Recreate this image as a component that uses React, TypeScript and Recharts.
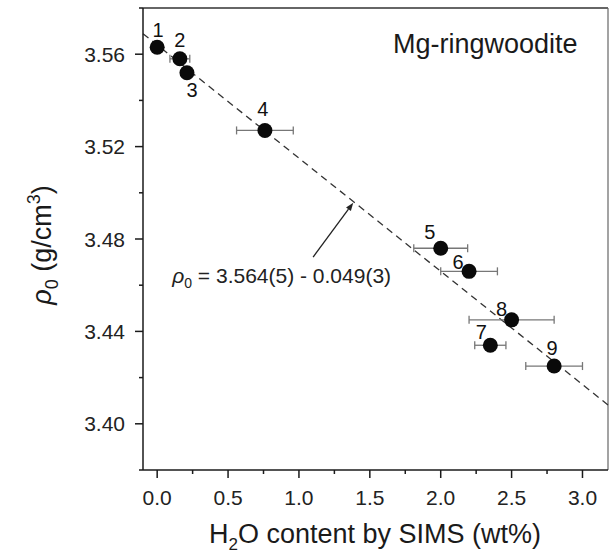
import React from 'react';
import {
  ScatterChart,
  Scatter,
  XAxis,
  YAxis,
  ErrorBar,
  ReferenceLine,
  ReferenceDot,
} from 'recharts';

// sample numbers, H2O content (wt%) with its error, and density rho0 (g/cm3)
const sampleIds = ['1', '2', '3', '4', '5', '6', '7', '8', '9'];
const waterContent = [0.0, 0.16, 0.21, 0.76, 2.0, 2.2, 2.35, 2.5, 2.8];
const waterError = [0, 0.07, 0, 0.2, 0.19, 0.2, 0.11, 0.3, 0.2];
const density = [3.563, 3.558, 3.552, 3.527, 3.476, 3.466, 3.434, 3.445, 3.425];

// fit rho0 = a + b * H2O
const fitIntercept = 3.564;
const fitSlope = -0.049;

const xDomain = [-0.1, 3.18];
const yDomain = [3.38, 3.58];
const xTicks = [0, 0.25, 0.5, 0.75, 1, 1.25, 1.5, 1.75, 2, 2.25, 2.5, 2.75, 3];
const yTicks = [3.38, 3.4, 3.42, 3.44, 3.46, 3.48, 3.5, 3.52, 3.54, 3.56, 3.58];

// arrow pointing at the fit line, and where the equation sits
const arrowFrom = { x: 1.1, y: 3.4722 };
const arrowTo = { x: 1.383, y: 3.4957 };
const equationAt = { x: 0.106, y: 3.4609 };

// label placement around each dot (dx, dy in px)
const labelOffset: Record<string, [number, number]> = {
  '1': [1, -17],
  '2': [0, -19],
  '3': [5, 17],
  '4': [-2, -21],
  '5': [-11, -16],
  '6': [-11, -9],
  '7': [-9, -13],
  '8': [-10, -11],
  '9': [-2, -18],
};

const data = sampleIds.map((id, i) => ({
  id,
  x: waterContent[i],
  y: density[i],
  xErr: waterError[i],
}));

const FONT = '"Liberation Sans", Arial, Helvetica, sans-serif';
const AXIS = '#1a1a1a';

const XTick = ({ x, y, payload }: any) => {
  const major = Math.round(payload.value * 100) % 50 === 0;
  return (
    <g>
      <line x1={x} x2={x} y1={y} y2={y + (major ? 8 : 4)} stroke={AXIS} strokeWidth={1.5} />
      {major && (
        <text x={x} y={y + 35} textAnchor="middle" fontSize={21} fontFamily={FONT} fill="#222">
          {payload.value.toFixed(1)}
        </text>
      )}
    </g>
  );
};

const YTick = ({ x, y, payload }: any) => {
  const major = Math.round(payload.value * 100) % 4 === 0;
  return (
    <g>
      <line x1={x} x2={x - (major ? 8 : 4)} y1={y} y2={y} stroke={AXIS} strokeWidth={1.5} />
      {major && (
        <text x={x - 18} y={y + 7.5} textAnchor="end" fontSize={21} fontFamily={FONT} fill="#222">
          {payload.value.toFixed(2)}
        </text>
      )}
    </g>
  );
};

const DotWithLabel = (props: any) => {
  const { cx, cy, payload } = props;
  const [dx, dy] = labelOffset[payload.id] || [0, -18];
  return (
    <g>
      <circle cx={cx} cy={cy} r={7.5} fill="#0a0a0a" />
      <text
        x={cx + dx}
        y={cy + dy + 7}
        textAnchor="middle"
        fontSize={20}
        fontFamily={FONT}
        fill="#111"
      >
        {payload.id}
      </text>
    </g>
  );
};

const Arrow = (props: any) => {
  const { x1, y1, x2, y2 } = props;
  const ang = Math.atan2(y2 - y1, x2 - x1);
  const len = 8;
  const w = 3;
  const bx = x2 - len * Math.cos(ang);
  const by = y2 - len * Math.sin(ang);
  const px = -Math.sin(ang) * w;
  const py = Math.cos(ang) * w;
  return (
    <g>
      <line x1={x1} y1={y1} x2={bx} y2={by} stroke="#222" strokeWidth={1.3} />
      <polygon points={`${x2},${y2} ${bx + px},${by + py} ${bx - px},${by - py}`} fill="#222" />
    </g>
  );
};

const Equation = (props: any) => {
  const { cx, cy } = props;
  return (
    <text x={cx} y={cy} fontSize={21} fontFamily={FONT} fill="#222">
      <tspan fontStyle="italic">ρ</tspan>
      <tspan fontSize={14} dy={5}>0</tspan>
      <tspan dy={-5}>{' = ' + fitIntercept.toFixed(3) + '(5) - ' + Math.abs(fitSlope).toFixed(3) + '(3)'}</tspan>
    </text>
  );
};

export default function App() {
  const fitStart = { x: xDomain[0], y: fitIntercept + fitSlope * xDomain[0] };
  const fitEnd = { x: xDomain[1], y: fitIntercept + fitSlope * xDomain[1] };

  return (
    <div style={{ position: 'absolute', left: 0, top: 0, width: 610, height: 556, background: '#fff' }}>
      <ScatterChart width={610} height={556} margin={{ top: 8, right: 2, bottom: 0, left: 0 }}>
        <XAxis
          type="number"
          dataKey="x"
          domain={xDomain}
          ticks={xTicks}
          interval={0}
          allowDataOverflow
          height={86}
          tickSize={0}
          tickMargin={0}
          tickLine={false}
          axisLine={{ stroke: AXIS, strokeWidth: 1.5 }}
          tick={<XTick />}
        />
        <YAxis
          type="number"
          dataKey="y"
          domain={yDomain}
          ticks={yTicks}
          interval={0}
          allowDataOverflow
          width={143}
          tickSize={0}
          tickMargin={0}
          tickLine={false}
          axisLine={{ stroke: AXIS, strokeWidth: 1.5 }}
          tick={<YTick />}
        />
        <ReferenceLine y={yDomain[1]} stroke="#333" strokeWidth={1.5} />
        <ReferenceLine x={xDomain[1]} stroke="#666" strokeWidth={1.2} />
        <ReferenceLine
          segment={[fitStart, fitEnd]}
          stroke="#333"
          strokeWidth={1.3}
          strokeDasharray="7 5"
        />
        <ReferenceLine segment={[arrowFrom, arrowTo]} shape={<Arrow />} />
        <ReferenceDot x={equationAt.x} y={equationAt.y} shape={<Equation />} />
        <Scatter data={data} isAnimationActive={false} shape={<DotWithLabel />}>
          <ErrorBar dataKey="xErr" direction="x" width={4} stroke="#777" strokeWidth={1.3} />
        </Scatter>
      </ScatterChart>
      <svg
        width={610}
        height={556}
        style={{ position: 'absolute', left: 0, top: 0, pointerEvents: 'none' }}
        fontFamily={FONT}
      >
        <text x={393} y={53} fontSize={27} fill="#1a1a1a">
          Mg-ringwoodite
        </text>
        <text x={375} y={543} fontSize={27} textAnchor="middle" fill="#1a1a1a">
          H<tspan fontSize={17} dy={7}>2</tspan>
          <tspan dy={-7}>O content by SIMS (wt%)</tspan>
        </text>
        <text
          x={51}
          y={245}
          fontSize={27}
          textAnchor="middle"
          fill="#1a1a1a"
          transform="rotate(-90 51 245)"
        >
          <tspan fontStyle="italic">ρ</tspan>
          <tspan fontSize={18} dy={7}>0</tspan>
          <tspan dy={-7}>{' (g/cm'}</tspan>
          <tspan fontSize={18} dy={-11}>3</tspan>
          <tspan dy={11}>)</tspan>
        </text>
      </svg>
    </div>
  );
}
